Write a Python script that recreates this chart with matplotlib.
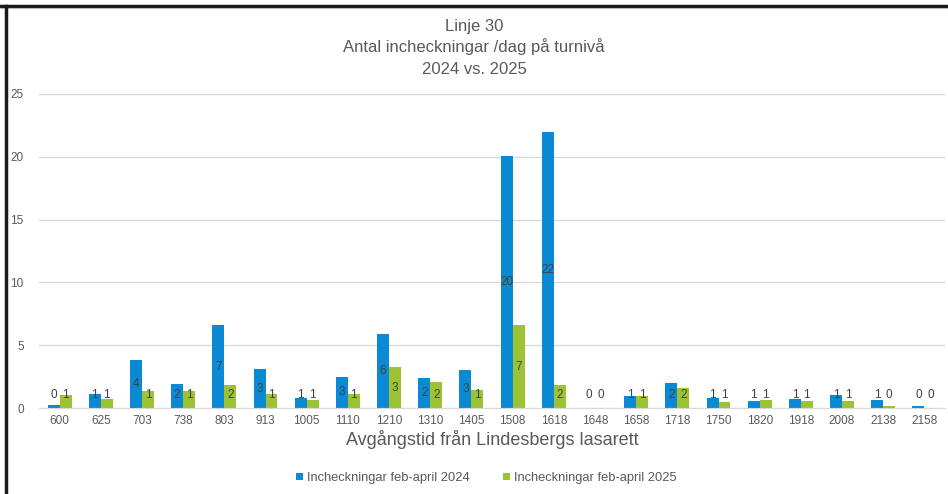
import numpy as np
import matplotlib
matplotlib.use("Agg")
import matplotlib.pyplot as plt
from matplotlib.lines import Line2D

plt.rcParams['font.family'] = ['Liberation Sans', 'DejaVu Sans']

avgangar = ['600', '625', '703', '738', '803', '913', '1005', '1110', '1210', '1310', '1405',
            '1508', '1618', '1648', '1658', '1718', '1750', '1820', '1918', '2008', '2138', '2158']
inch_2024 = [0.2, 1.1, 3.8, 1.9, 6.6, 3.1, 0.8, 2.5, 5.9, 2.4, 3.0,
             20.1, 22.0, 0.0, 0.95, 2.0, 0.8, 0.55, 0.7, 1.05, 0.65, 0.15]
inch_2025 = [1.05, 0.75, 1.35, 1.35, 1.8, 1.1, 0.6, 1.15, 3.25, 2.05, 1.4,
             6.6, 1.85, 0.0, 0.95, 1.6, 0.5, 0.6, 0.55, 0.55, 0.15, 0.0]
etikett_2024 = [0, 1, 4, 2, 7, 3, 1, 3, 6, 2, 3, 20, 22, 0, 1, 2, 1, 1, 1, 1, 1, 0]
etikett_2025 = [1, 1, 1, 1, 2, 1, 1, 1, 3, 2, 1, 7, 2, 0, 1, 2, 1, 1, 1, 1, 0, 0]

bla = '#0A8AD4'
gron = '#9CC334'
gra = '#595959'

fig = plt.figure(figsize=(9.48, 4.94), dpi=100)
ax = fig.add_axes([39/948, 86/494, 906/948, 314/494])

ind = np.arange(len(avgangar))
w = 0.29
ax.bar(ind - w/2, inch_2024, width=w, color=bla, label='Incheckningar feb-april 2024', zorder=2)
ax.bar(ind + w/2, inch_2025, width=w, color=gron, label='Incheckningar feb-april 2025', zorder=2)

for i in ind:
    ax.text(i - w/2, max(inch_2024[i]/2, 1.0), str(etikett_2024[i]), ha='center', va='center',
            fontsize=8.5, color='#404040', zorder=3)
    ax.text(i + w/2, max(inch_2025[i]/2, 1.0), str(etikett_2025[i]), ha='center', va='center',
            fontsize=8.5, color='#404040', zorder=3)

ax.set_xlim(-0.5, len(avgangar) - 0.5)
ax.set_ylim(0, 25)
ax.set_yticks([0, 5, 10, 15, 20, 25])
ax.set_xticks(ind)
ax.set_xticklabels(avgangar)
ax.tick_params(axis='both', length=0, labelsize=8.5, labelcolor=gra)
ax.tick_params(axis='y', pad=11)
ax.tick_params(axis='x', pad=5)
ax.grid(axis='y', color='#D9D9D9', linewidth=1, zorder=0)
for s in ['top', 'right', 'left']:
    ax.spines[s].set_visible(False)
ax.spines['bottom'].set_color('#D9D9D9')

ax.set_xlabel('Avgångstid från Lindesbergs lasarett', fontsize=13, color=gra, labelpad=2)

fig.text(0.5, 1 - 27/494, 'Linje 30', ha='center', va='center', fontsize=12, color=gra)
fig.text(0.5, 1 - 47/494, 'Antal incheckningar /dag på turnivå', ha='center', va='center', fontsize=12, color=gra)
fig.text(0.5, 1 - 69/494, '2024 vs. 2025', ha='center', va='center', fontsize=12, color=gra)

fig.legend(loc='center', bbox_to_anchor=(486/948, 1 - 478/494), ncol=2, frameon=False,
           fontsize=9.3, labelcolor=gra, handlelength=0.55, handleheight=0.55,
           handletextpad=0.3, columnspacing=2.6)

# ram runt bilden (skärmklipp)
fig.add_artist(Line2D([0, 1], [1 - 6/494, 1 - 6/494], color='#1a1a1a', linewidth=2.5, transform=fig.transFigure))
fig.add_artist(Line2D([0, 1], [1 - 8.5/494, 1 - 8.5/494], color='#bbbbbb', linewidth=0.8, transform=fig.transFigure))
fig.add_artist(Line2D([6/948, 6/948], [0, 1 - 6/494], color='#1a1a1a', linewidth=2.5, transform=fig.transFigure))

fig.savefig('out.png', dpi=100)
